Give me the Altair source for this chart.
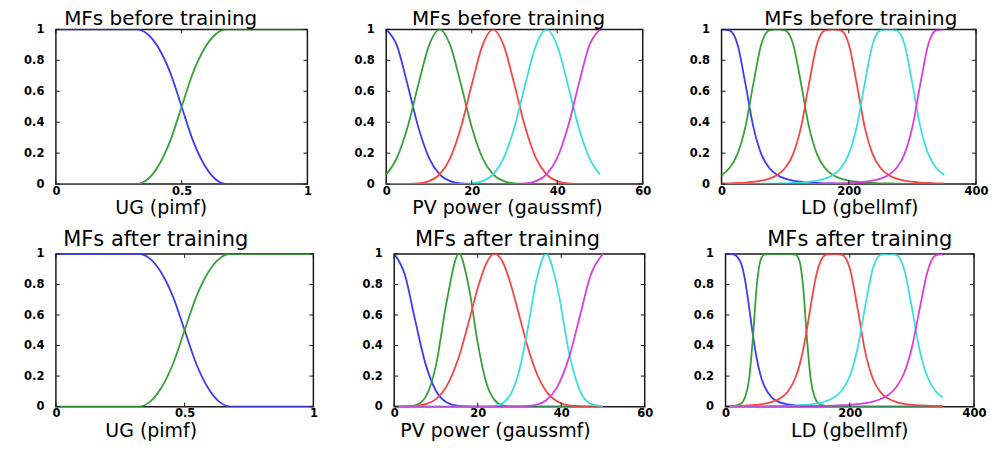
import altair as alt
import pandas as pd

# ---------------- data ----------------
y_ticks = [0, 0.2, 0.4, 0.6, 0.8, 1]
ug_ticks = [0, 0.5, 1]
pv_ticks = [0, 20, 40, 60]
ld_ticks = [0, 200, 400]

# UG (pimf)
ug_x = [0, 0.32, 0.365, 0.41, 0.455, 0.5, 0.545, 0.59, 0.635, 0.68, 1]
ug_before_low = [1, 1, 0.969, 0.875, 0.719, 0.5, 0.281, 0.125, 0.031, 0, 0]
ug_before_high = [0, 0, 0.031, 0.125, 0.281, 0.5, 0.719, 0.875, 0.969, 1, 1]
ug_after_low = [1, 1, 0.969, 0.875, 0.719, 0.5, 0.281, 0.125, 0.031, 0, 0]
ug_after_high = [0, 0, 0.031, 0.125, 0.281, 0.5, 0.719, 0.875, 0.969, 1, 1]

# PV power (gaussmf) before training
pv_before_x = [0, 2.5, 5, 7.5, 10, 12.5, 15, 17.5, 20, 22.5, 25, 27.5, 30, 32.5, 35,
               37.5, 40, 42.5, 45, 47.5, 50]
pv_before_1 = [1, .895, .642, .369, .170, .063, .019, .004, .001, 0, 0, 0, 0, 0, 0, 0, 0, 0, 0, 0, 0]
pv_before_2 = [.063, .170, .369, .642, .895, 1, .895, .642, .369, .170, .063, .019, .004, .001, 0, 0, 0, 0, 0, 0, 0]
pv_before_3 = [0, 0, .001, .004, .019, .063, .170, .369, .642, .895, 1, .895, .642, .369, .170, .063, .019, .004, .001, 0, 0]
pv_before_4 = [0, 0, 0, 0, 0, 0, 0, .001, .004, .019, .063, .170, .369, .642, .895, 1, .895, .642, .369, .170, .063]
pv_before_5 = [0, 0, 0, 0, 0, 0, 0, 0, 0, 0, 0, 0, .001, .004, .019, .063, .170, .369, .642, .895, 1]

# PV power (gaussmf) after training
pv_after_x = [0, 2.5, 5, 7.5, 10, 12.5, 15.5, 18, 20, 22, 24, 26, 28, 30, 32, 34, 36.4,
              39, 42, 44.5, 47, 50]
pv_after_1 = [1, .868, .568, .280, .104, .029, .004, .001, 0, 0, 0, 0, 0, 0, 0, 0, 0, 0, 0, 0, 0, 0]
pv_after_2 = [0, .001, .008, .063, .270, .678, 1, .763, .417, .161, .044, .008, .001, 0, 0, 0, 0, 0, 0, 0, 0, 0]
pv_after_3 = [0, .001, .004, .016, .049, .131, .327, .570, .775, .935, 1, .947, .794, .591, .389, .227, .101,
              .035, .008, .002, 0, 0]
pv_after_4 = [0, 0, 0, 0, 0, 0, 0, 0, 0, .001, .005, .024, .087, .242, .512, .819, 1, .791, .338, .103,
              .020, .002]
pv_after_5 = [0, 0, 0, 0, 0, 0, 0, 0, 0, 0, 0, 0, 0, .001, .004, .012, .042, .126, .334, .595, .857, 1]

# LD (gbellmf) before training
ld_before_x = [0, 12.5, 25, 37.5, 50, 62.5, 75, 87.5, 100, 112.5, 125, 137.5, 150, 162.5, 175,
               187.5, 200, 212.5, 225, 237.5, 250, 262.5, 275, 287.5, 300, 312.5, 325, 337.5, 350]
ld_before_1 = [1, .993, .904, .649, .370, .194, .104, .059, .035, .022, .015, .010, .007, .005, .004,
               .003, .002, .002, .001, .001, .001, .001, .001, .001, 0, 0, 0, 0, 0]
ld_before_2 = [.059, .104, .194, .370, .649, .904, .993, 1, .993, .904, .649, .370, .194, .104, .059,
               .035, .022, .015, .010, .007, .005, .004, .003, .002, .002, .001, .001, .001, .001]
ld_before_3 = [.004, .005, .007, .010, .015, .022, .035, .059, .104, .194, .370, .649, .904, .993, 1,
               .993, .904, .649, .370, .194, .104, .059, .035, .022, .015, .010, .007, .005, .004]
ld_before_4 = [.001, .001, .001, .001, .002, .002, .003, .004, .005, .007, .010, .015, .022, .035, .059,
               .104, .194, .370, .649, .904, .993, 1, .993, .904, .649, .370, .194, .104, .059]
ld_before_5 = [0, 0, 0, 0, 0, .001, .001, .001, .001, .001, .001, .002, .002, .003, .004,
               .005, .007, .010, .015, .022, .035, .059, .104, .194, .370, .649, .904, .993, 1]

# LD (gbellmf) after training
ld_after_x = [0, 12.5, 25, 31.25, 37.5, 43.75, 50, 56.25, 62.5, 75, 87.5, 100, 112.5, 118.75, 125,
              131.25, 137.5, 143.75, 150, 162.5, 175, 187.5, 200, 212.5, 225, 237.5, 250, 262.5,
              275, 287.5, 300, 312.5, 325, 337.5, 350]
ld_after_1 = [1, .998, .938, .832, .665, .478, .320, .207, .134, .058, .028, .015, .008, .006, .005,
              .004, .003, .002, .002, .001, .001, .001, 0, 0, 0, 0, 0, 0, 0, 0, 0, 0, 0, 0, 0]
ld_after_2 = [.001, .004, .021, .059, .168, .434, .782, .957, .995, 1, 1, 1, .995, .957, .782,
              .434, .168, .059, .021, .004, .001, 0, 0, 0, 0, 0, 0, 0, 0, 0, 0, 0, 0, 0, 0]
ld_after_3 = [.003, .004, .006, .007, .008, .010, .012, .015, .019, .031, .053, .097, .189, .266, .374,
              .513, .670, .815, .920, .996, 1, .994, .907, .645, .355, .179, .092, .051, .030, .018,
              .012, .008, .006, .004, .003]
ld_after_4 = [.001, .001, .001, .001, .002, .002, .002, .002, .002, .003, .004, .005, .007, .009, .011,
              .013, .015, .019, .023, .037, .061, .107, .200, .381, .662, .910, .994, 1, .993, .901,
              .647, .369, .194, .104, .059]
ld_after_5 = [.001, .001, .001, .001, .001, .001, .001, .001, .001, .001, .002, .002, .002, .003, .003,
              .003, .003, .004, .004, .005, .007, .009, .012, .016, .023, .033, .050, .078, .128, .220,
              .387, .640, .884, .989, 1]

mf_names = ["mf1", "mf2", "mf3", "mf4", "mf5"]
mf_colors = ["#3c3cf5", "#38a038", "#f54545", "#3ddede", "#dc3ddc"]

FONT = "DejaVu Sans"


def panel(xs, curves, domain, xticks, title, xtitle, w, h, title_size, title_dx, xtitle_x,
          title_offset):
    rows = []
    for name, ys in zip(mf_names, curves):
        for x, y in zip(xs, ys):
            rows.append({"x": x, "y": y, "mf": name})
    df = pd.DataFrame(rows)

    xscale = alt.Scale(domain=domain, nice=False, zero=False)
    yscale = alt.Scale(domain=[0, 1], nice=False)
    xaxis = alt.Axis(values=xticks, title=xtitle, format=".4~g", titleX=xtitle_x)
    yaxis = alt.Axis(values=y_ticks, title=None, format=".4~g")

    lines = alt.Chart(df).mark_line(strokeWidth=1.8, interpolate="monotone", clip=True).encode(
        x=alt.X("x:Q", scale=xscale, axis=xaxis),
        y=alt.Y("y:Q", scale=yscale, axis=yaxis),
        color=alt.Color("mf:N", scale=alt.Scale(domain=mf_names, range=mf_colors), legend=None),
        order=alt.Order("x:Q"),
    )

    xt = pd.DataFrame({"x": xticks})
    yt = pd.DataFrame({"y": y_ticks})
    tick_color = "#1a1a1a"
    xb = alt.Chart(xt).mark_rule(color=tick_color, strokeWidth=1).encode(
        x=alt.X("x:Q", scale=xscale, axis=xaxis), y=alt.value(h), y2=alt.value(h - 4))
    xtp = alt.Chart(xt).mark_rule(color=tick_color, strokeWidth=1).encode(
        x=alt.X("x:Q", scale=xscale, axis=xaxis), y=alt.value(0), y2=alt.value(4))
    yl = alt.Chart(yt).mark_rule(color=tick_color, strokeWidth=1).encode(
        y=alt.Y("y:Q", scale=yscale, axis=yaxis), x=alt.value(0), x2=alt.value(4))
    yr = alt.Chart(yt).mark_rule(color=tick_color, strokeWidth=1).encode(
        y=alt.Y("y:Q", scale=yscale, axis=yaxis), x=alt.value(w), x2=alt.value(w - 4))

    return alt.layer(lines, xb, xtp, yl, yr).properties(
        width=w, height=h,
        title=alt.TitleParams(title, fontSize=title_size, font=FONT, fontWeight="normal",
                              color="black", anchor="middle", frame="group", dx=title_dx,
                              offset=title_offset),
    )


p1 = panel(ug_x, [ug_before_low, ug_before_high], [0, 1], ug_ticks,
           "MFs before training", "UG (pimf)", 252, 155, 20, -21, 105, -6)
p2 = panel(pv_before_x, [pv_before_1, pv_before_2, pv_before_3, pv_before_4, pv_before_5],
           [0, 60], pv_ticks, "MFs before training", "PV power (gaussmf)", 257, 155, 20, -6, 121, -6)
p3 = panel(ld_before_x, [ld_before_1, ld_before_2, ld_before_3, ld_before_4, ld_before_5],
           [0, 400], ld_ticks, "MFs before training", "LD (gbellmf)", 255, 155, 20, 12, 138, -6)

p4 = panel(ug_x, [ug_after_low, ug_after_high], [0, 1], ug_ticks,
           "MFs after training", "UG (pimf)", 258, 153, 21, -29, 95, -2)
p5 = panel(pv_after_x, [pv_after_1, pv_after_2, pv_after_3, pv_after_4, pv_after_5],
           [0, 60], pv_ticks, "MFs after training", "PV power (gaussmf)", 251, 153, 21, -12, 101, -2)
p6 = panel(ld_after_x, [ld_after_1, ld_after_2, ld_after_3, ld_after_4, ld_after_5],
           [0, 400], ld_ticks, "MFs after training", "LD (gbellmf)", 249, 153, 21, 10, 124, -2)

row1 = alt.hconcat(p1, p2, p3, spacing=79, bounds="flush")
row2 = alt.hconcat(p4, p5, p6, spacing=81, bounds="flush")

chart = alt.vconcat(row1, row2, spacing=9).properties(
    padding={"left": 14, "top": 0, "right": 0, "bottom": 0}
).configure_view(
    stroke="#1a1a1a", strokeWidth=1.5
).configure_axis(
    grid=False, ticks=False, domain=False,
    labelFont=FONT, labelFontWeight="bold", labelFontSize=11.5, labelColor="black",
    titleFont=FONT, titleFontWeight="normal", titleFontSize=19, titleColor="black",
    labelFlush=False,
).configure_axisY(
    labelPadding=12
).configure_axisX(
    labelPadding=1, titlePadding=2
).configure_title(
    font=FONT, fontWeight="normal", color="black"
)

chart.save("out.html", embed_options={"renderer": "svg", "actions": False})
